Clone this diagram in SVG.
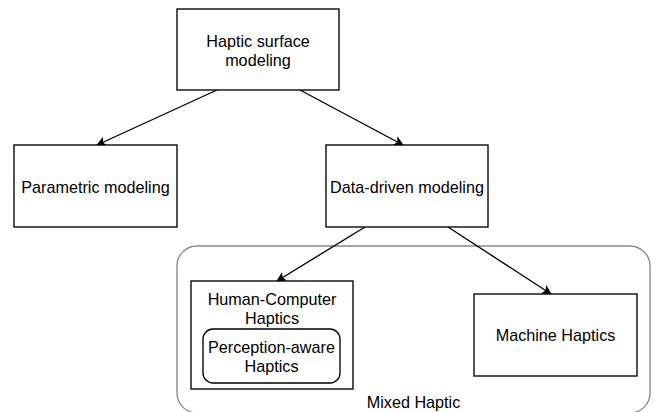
<svg xmlns="http://www.w3.org/2000/svg" width="660" height="412" viewBox="0 0 660 412">
<style>
.box{fill:#fff;stroke:#000;stroke-width:1.35}
.cont{fill:none;stroke:#888;stroke-width:1.35}
.t{font-family:"Liberation Sans",Arial,sans-serif;font-size:16.2px;fill:#000;text-anchor:middle}
.c{stroke:#000;stroke-width:1.35;fill:none}
</style>
<defs>
<marker id="arr" viewBox="0 0 10 10" refX="9" refY="5" markerWidth="10" markerHeight="10" markerUnits="userSpaceOnUse" orient="auto">
<path d="M0,0 L10,5 L0,10 L2.5,5 Z" fill="#000"/>
</marker>
</defs>
<rect fill="#fff" width="660" height="412"/>
<g id="mixed">
<rect class="cont" x="177" y="246" width="473" height="167" rx="20" ry="20"/>
<text class="t" x="413.5" y="408">Mixed Haptic</text>
</g>
<g id="connectors">
<line class="c" x1="217" y1="90" x2="97" y2="145" marker-end="url(#arr)"/>
<line class="c" x1="300" y1="90" x2="403" y2="145" marker-end="url(#arr)"/>
<line class="c" x1="365" y1="227" x2="277" y2="281" marker-end="url(#arr)"/>
<line class="c" x1="448" y1="227" x2="551" y2="294" marker-end="url(#arr)"/>
</g>
<g id="top">
<rect class="box" x="177" y="9" width="162" height="81"/>
<text class="t" x="258" y="46.5">Haptic surface</text>
<text class="t" x="258" y="66">modeling</text>
</g>
<g id="parametric">
<rect class="box" x="14" y="145" width="163" height="82"/>
<text class="t" x="95.5" y="192.5">Parametric modeling</text>
</g>
<g id="datadriven">
<rect class="box" x="326" y="145" width="162" height="82"/>
<text class="t" x="407" y="192.5">Data-driven modeling</text>
</g>
<g id="hci">
<rect class="box" x="191" y="281" width="162" height="108"/>
<text class="t" x="272" y="305">Human-Computer</text>
<text class="t" x="272" y="324">Haptics</text>
</g>
<g id="perception">
<rect class="box" x="203" y="329" width="137" height="54" rx="10" ry="10"/>
<text class="t" x="271.5" y="353">Perception-aware</text>
<text class="t" x="271.5" y="372">Haptics</text>
</g>
<g id="machine">
<rect class="box" x="474" y="294" width="163" height="82"/>
<text class="t" x="555.5" y="341">Machine Haptics</text>
</g>
</svg>
